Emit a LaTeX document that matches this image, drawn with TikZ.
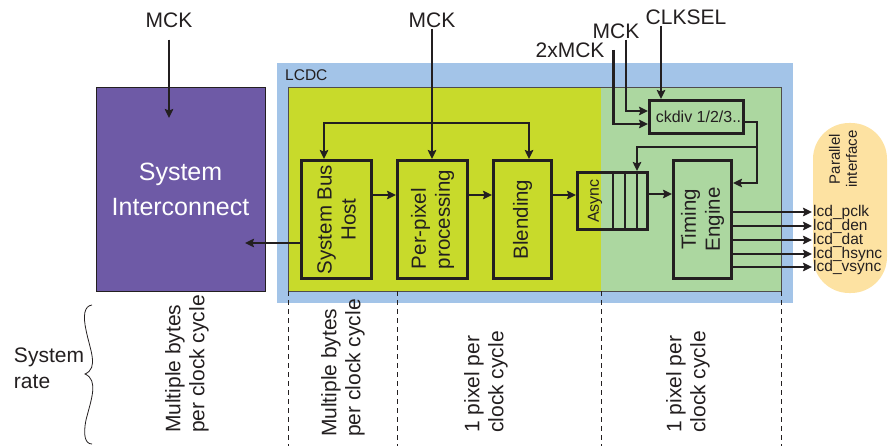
\documentclass[tikz,border=0pt]{standalone}
\usepackage{fontspec}
\setmainfont{Liberation Sans}
\usetikzlibrary{arrows.meta,positioning}

\definecolor{ink}{HTML}{231F20}
\definecolor{lcdblue}{HTML}{A3C4E8}
\definecolor{pixlime}{HTML}{C8DA2B}
\definecolor{tmgreen}{HTML}{ACD7A0}
\definecolor{sysviolet}{HTML}{6E5AA6}
\definecolor{ifcorange}{HTML}{FDE2A2}

\begin{document}
\begin{tikzpicture}[x=1pt,y=-1pt,
  blockbox/.style={draw=ink,line width=3pt,minimum width=70pt,minimum height=118pt,
    inner sep=0pt,align=center,text=ink},
  vtext/.style={rotate=90,align=center,text=ink,inner sep=0pt,font=\fontsize{20.5}{24}\selectfont},
  flow/.style={-{Stealth[length=9pt,width=8.5pt,inset=1.5pt]},draw=ink,line width=2.5pt},
  clklabel/.style={text=ink,inner sep=1pt,font=\fontsize{21}{24}\selectfont},
  ratetext/.style={rotate=90,align=left,text=ink,inner sep=0pt,font=\fontsize{21}{24}\selectfont},
  sigbox/.style={anchor=west,text=ink,inner sep=1pt,font=\fontsize{15.5}{15.5}\selectfont},
  cut/.style={draw=ink,line width=1pt,dash pattern=on 5pt off 4pt}
]
\useasboundingbox (0,0) rectangle (888,446);

% LCDC areas
\fill[lcdblue] (277,63) rectangle (793,303);
\fill[pixlime] (288,87) rectangle (601,291);
\fill[tmgreen] (601,87) rectangle (781,291);
\draw[ink!80,line width=.8pt] (288,87) rectangle (781,291);
\node[anchor=west,text=ink,inner sep=0pt,font=\fontsize{15.5}{15.5}\selectfont] (lcdc) at (285,75.5) {LCDC};

% system side
\node[draw=ink,line width=.8pt,fill=sysviolet,minimum width=169pt,minimum height=204pt,
  text=white,align=center,font=\fontsize{25}{35}\selectfont] (sysic) at (180.5,189) {System\\Interconnect};
\node[clklabel] (mcksys) at (169,20) {MCK};
\coordinate (sysclk) at (169,118);
\coordinate (sysin) at (245,243);

% pixel pipeline
\node[blockbox] (sbh) at (336.5,219.5) {};
\node[blockbox,right=23pt of sbh] (ppp) {};
\node[blockbox,minimum width=58pt,right=23pt of ppp] (blend) {};
\node[blockbox,minimum height=57pt] (async) at (612.5,201) {};
\node[blockbox,minimum width=58pt] (timing) at (702.5,219.5) {};
\node[blockbox,minimum width=94pt,minimum height=33pt,
  font=\fontsize{16}{16}\selectfont] (ckdiv) at (696.5,117) {\hspace*{4pt}ckdiv 1/2/3..};

\node[vtext] (sbhtext) at (sbh) {System Bus\\Host};
\node[vtext,align=left] (ppptext) at (ppp) {Per-pixel\\processing};
\node[vtext] (blendtext) at (blend) {Blending};
\node[vtext,font=\fontsize{16}{16}\selectfont] (asynctext) at (595,201) {Async};
\node[vtext] (timingtext) at (timing) {Timing\\Engine};
\foreach \dx in {0.5,12.5,24.5}
  \draw[ink,line width=2.5pt] ([xshift=\dx pt]async.north) -- ([xshift=\dx pt]async.south);

% clocks
\node[clklabel] (mckpix) at (432,20) {MCK};
\node[clklabel] (mckx2) at (570,50) {2xMCK};
\node[clklabel] (mckdiv) at (616,31) {MCK};
\node[clklabel] (clksel) at (686,17) {CLKSEL};
\coordinate (fork) at (432,123);
\coordinate (ckbus) at (757,147);
\coordinate (busrow) at (0,195);
\coordinate (asyrow) at (0,194);

% parallel interface
\node[fill=ifcorange,rounded corners=36pt,minimum width=74pt,minimum height=170pt,inner sep=0pt]
  (parif) at (850,208) {};
\node[vtext,font=\fontsize{15}{17}\selectfont] (piftext) at (843,159) {Parallel\\interface};
\node[sigbox] (pclk) at (812,212) {lcd\_pclk};
\node[sigbox] (den) at (812,226) {lcd\_den};
\node[sigbox] (dat) at (812,240) {lcd\_dat};
\node[sigbox] (hsync) at (812,254) {lcd\_hsync};
\node[sigbox] (vsync) at (812,267) {lcd\_vsync};

% connectors
\draw[flow,shorten <=11pt] (mcksys.south) -- (sysclk);
\draw[flow] (sbh.west |- sysin) -- (sysin);
\draw[flow] (mckpix.south) -- (mckpix.south |- ppp.north);
\draw[flow] (fork) -| ([xshift=-12.5pt]sbh.north);
\draw[flow] (fork) -| ([xshift=6.5pt]blend.north);
\draw[flow] (sbh.east |- busrow) -- (ppp.west |- busrow);
\draw[flow] (ppp.east |- busrow) -- (blend.west |- busrow);
\draw[flow] (blend.east |- busrow) -- (async.west |- busrow);
\draw[flow] (async.east |- asyrow) -- (timing.west |- asyrow);
\draw[flow] ([xshift=8pt]mckx2.east) |- ([yshift=-7pt]ckdiv.west);
\draw[flow] ([xshift=10pt]mckdiv.south) |- ([yshift=6pt]ckdiv.west);
\draw[flow] ([xshift=-25pt]clksel.south) -- ([xshift=-35.5pt]ckdiv.north);
\draw[flow] ([yshift=-5pt]ckdiv.east) -| (ckbus) |- ([yshift=36.5pt]timing.east);
\draw[flow] (ckbus) -| ([xshift=24.5pt]async.north);
\foreach \sig in {pclk,den,dat,hsync,vsync}
  \draw[flow] (timing.east |- \sig.west) -- (\sig.west);

% clock rate columns
\foreach \x in {288,397,601,781}
  \draw[cut] (\x,291) -- (\x,446);
\draw[ink,line width=.8pt] (92,305) .. controls (84,306) and (83,316) .. (86,330)
  .. controls (90,350) and (99,368) .. (85,374)
  .. controls (99,380) and (91,400) .. (86,420)
  .. controls (83,435) and (85,444) .. (92,444);
\node[align=left,text=ink,inner sep=0pt,font=\fontsize{21}{26}\selectfont] (sysrate) at (49,368) {System\\rate};
\node[ratetext] (ratesys) at (187,364) {Multiple bytes\\per clock cycle};
\node[ratetext] (ratehost) at (343,368) {Multiple bytes\\per clock cycle};
\node[ratetext] (ratepix) at (486,382) {1 pixel per\\clock cycle};
\node[ratetext] (ratetm) at (688,382) {1 pixel per\\clock cycle};
\end{tikzpicture}
\end{document}
